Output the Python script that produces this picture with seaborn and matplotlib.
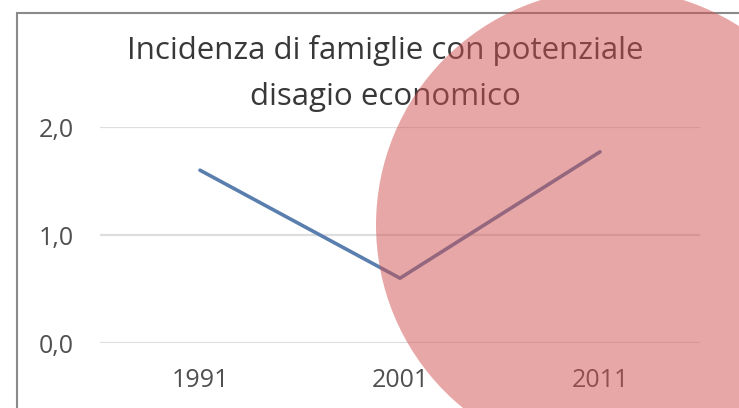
import pandas as pd
import matplotlib.pyplot as plt
import seaborn as sns
from matplotlib.patches import Circle, Rectangle

# dati
anni = ['1991', '2001', '2011']
incidenza = [1.60, 0.60, 1.77]

sns.set_theme(style='white')
plt.rcParams['font.family'] = ['Open Sans', 'DejaVu Sans']

df = pd.DataFrame({'anno': anni, 'incidenza': incidenza})

W, H = 739, 408
fig = plt.figure(figsize=(W / 100, H / 100), dpi=100)
ax = fig.add_axes([100 / W, (H - 343) / H, 600 / W, 216 / H])

sns.lineplot(data=df, x='anno', y='incidenza', ax=ax, color='#5a7fae',
             linewidth=2.6, sort=False)

ax.set_xlim(-0.5, 2.5)
ax.set_ylim(0, 2)
ax.set_yticks([0, 1, 2])
ax.set_yticklabels(['0,0', '1,0', '2,0'])
ax.set_xlabel('')
ax.set_ylabel('')
ax.grid(axis='y', color='#dedede', linewidth=1.6)
ax.grid(axis='x', visible=False)
ax.set_axisbelow(True)
for s in ax.spines.values():
    s.set_visible(False)
ax.tick_params(axis='y', length=0, pad=19, labelsize=18, labelcolor='#505050')
ax.tick_params(axis='x', length=0, pad=18, labelsize=18, labelcolor='#505050')

fig.text(385 / W, 1 - 50 / H, 'Incidenza di famiglie con potenziale',
         ha='center', va='center', fontsize=22.5, color='#383838')
fig.text(385 / W, 1 - 97 / H, 'disagio economico',
         ha='center', va='center', fontsize=22.5, color='#383838')

# cornice del grafico
fig.patches.append(Rectangle((17 / W, -0.1), 1.0, 1 - 13 / H + 0.1,
                             transform=fig.transFigure, fill=False,
                             edgecolor='#8a8a8a', linewidth=1.5))

# cerchio rosso sovrapposto
fig.patches.append(Circle((612, H - 225), 236, transform=None,
                          facecolor='#d15151', alpha=0.5, edgecolor='none',
                          zorder=10))

plt.savefig('out.png', dpi=100)
